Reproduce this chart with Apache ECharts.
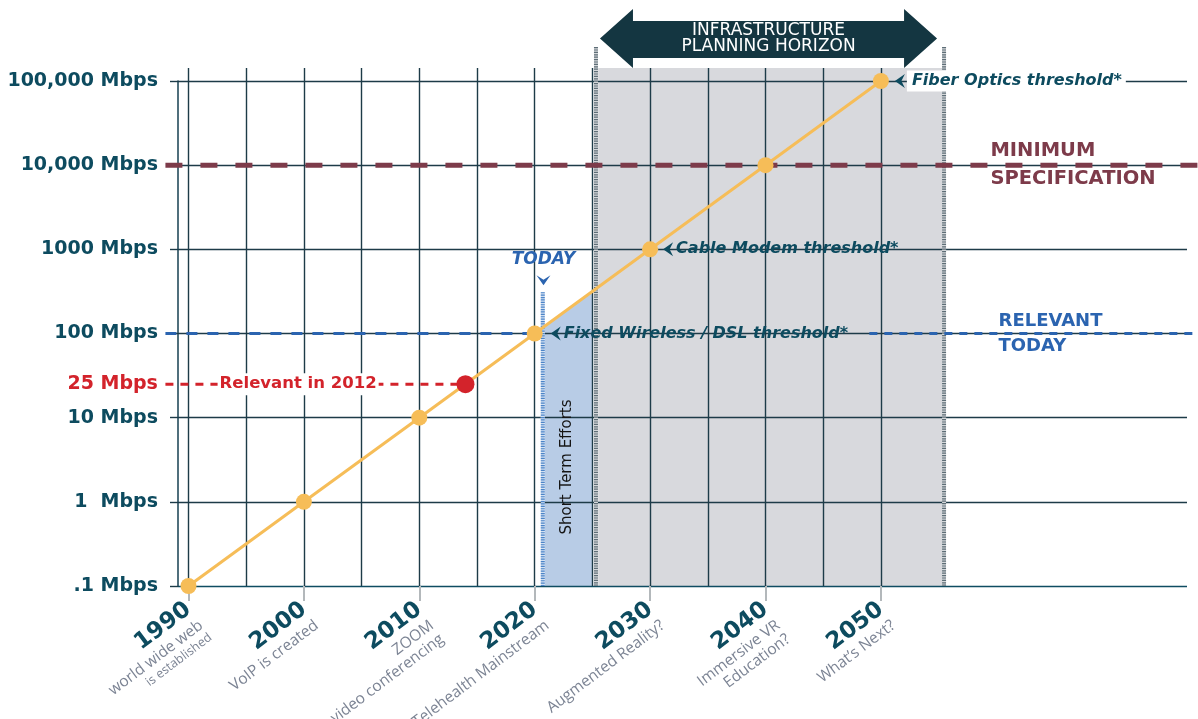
<!DOCTYPE html>
<html><head><meta charset="utf-8">
<script src="https://cdn.jsdelivr.net/npm/echarts@6/dist/echarts.min.js"></script>
<style>html,body{margin:0;padding:0;background:#fff}#c{width:1198px;height:719px}</style>
</head><body><div id="c"></div>
<script>
// ---------------- data ----------------
const years = [1990, 2000, 2010, 2020, 2030, 2040, 2050];
const speedsMbps = [0.1, 1, 10, 100, 1000, 10000, 100000];
const milestones = [
  ['world wide web', 'is established'],
  ['VoIP is created'],
  ['ZOOM', 'video conferencing'],
  ['Telehealth Mainstream'],
  ['Augmented Reality?'],
  ['Immersive VR', 'Education?'],
  ['What\u2019s Next?']
];
const yTickLabels = ['.1 Mbps', '1  Mbps', '10 Mbps', '100 Mbps', '1000 Mbps', '10,000 Mbps', '100,000 Mbps'];
const relevant2012Point = [2014, 25];
const relevant2012Text = 'Relevant in 2012';
const relevant2012Tick = '25 Mbps';
const thresholdNames = ['Fiber Optics threshold*', 'Cable Modem threshold*', 'Fixed Wireless / DSL threshold*'];
const thresholdYears = [2050, 2030, 2020];
const thresholdValues = [100000, 1000, 100];
const minimumSpecValue = 10000;
const minimumSpecText = 'MINIMUM\nSPECIFICATION';
const relevantTodayValue = 100;
const relevantTodayText = 'RELEVANT\nTODAY';
const referenceSpan = [1988, 2078];
const relevantTodayGap = [2020, 2049];
const planningHorizon = [2025.5, 2055.3];
const planningText = 'INFRASTRUCTURE\nPLANNING HORIZON';
const shortTermArea = [2020.85, 120, 2025, 325];
const shortTermText = 'Short Term Efforts';
const todayYear = 2020.7;
const todayTopValue = 310;
const todayText = 'TODAY';

// ---------------- styles ----------------
const DARK = '#0d4b5f', GRID = '#1d3b48', FONT = 'DejaVu Sans';
const ORANGE = '#f6bd58', RED = '#d3232b', MAROON = '#7d3b4a', BLUE = '#2b64b0';
const PX_PER_YEAR = 692.4 / 60;
const DESC_LH = 17, SMALL_LH = 14;
const logAxis = extra => Object.assign({type: 'log', logBase: 10, min: 0.1, max: 100000, splitNumber: 6}, extra);

const chart = echarts.init(document.getElementById('c'));

// x labels: year + milestone lines; a spacer line above keeps the year line centred on the tick
const xRich = {
  y: {fontFamily: FONT, fontWeight: 'bold', fontSize: 23, color: DARK, lineHeight: 25, align: 'right'},
  d: {fontFamily: 'Open Sans', fontSize: 15.5, color: '#7c8494', lineHeight: DESC_LH, align: 'right'},
  s: {fontFamily: 'Open Sans', fontSize: 12.5, color: '#7c8494', lineHeight: SMALL_LH, align: 'right'}
};
const xLabelFormatter = v => {
  const i = years.indexOf(v);
  if (i < 0) return '';
  let h = 0, body = '';
  milestones[i].forEach((t, j) => {
    const small = i === 0 && j === 1;
    h += small ? SMALL_LH : DESC_LH;
    body += '\n{' + (small ? 's' : 'd') + '|' + t + '}';
  });
  const key = 'h' + h;
  if (!xRich[key]) xRich[key] = {fontSize: 1, lineHeight: h, color: 'rgba(0,0,0,0)', align: 'right'};
  return '{' + key + '|.}\n{y|' + v + '}' + body;
};
years.forEach(xLabelFormatter); // register spacer styles

const thresholdData = thresholdNames.map((n, i) => ({
  name: n,
  value: [thresholdYears[i], thresholdValues[i]],
  symbolOffset: [[19, 0], [18, 0], [21, 0]][i],
  label: i === 0 ? {backgroundColor: '#fff', padding: [3, 4, 2, 5], distance: 2} : {distance: 3}
}));

const textItems = [
  {name: relevant2012Tick, value: [referenceSpan[0], relevant2012Point[1]],
   label: {position: 'left', distance: 7, color: RED, fontSize: 19}},
  {name: relevant2012Text, value: [1999.5, relevant2012Point[1]],
   label: {position: 'inside', color: RED, fontSize: 16.5, backgroundColor: '#fff', padding: [3, 2, 2, 2]}},
  {name: minimumSpecText, value: [2059.45, minimumSpecValue],
   label: {position: 'right', distance: 0, color: MAROON, fontSize: 19.5, lineHeight: 28}},
  {name: relevantTodayText, value: [2060.15, relevantTodayValue],
   label: {position: 'right', distance: 0, color: BLUE, fontSize: 18, lineHeight: 25}}
];

const refLine = (data, style) => ({type: 'line', xAxisIndex: 3, yAxisIndex: 3, z: 5, silent: true, symbol: 'none',
  data, lineStyle: style});

const gridBase = {containLabel: false, outerBoundsMode: 'none'};
const option = {
  animation: false,
  backgroundColor: '#fff',
  grid: [
    Object.assign({left: 130.8, top: 68, width: 750.1, height: 518}, gridBase),
    Object.assign({left: 178, top: 81, right: 11, height: 505}, gridBase),
    Object.assign({left: 188.5, top: 81, width: 692.4, height: 505}, gridBase),
    Object.assign({left: 0, top: 81, right: 0, height: 505}, gridBase)
  ],
  xAxis: [
    {gridIndex: 0, type: 'value', min: 1985, max: 2050, interval: 5, z: 3,
     axisLine: {show: false}, axisTick: {show: false}, axisLabel: {show: false},
     splitLine: {show: true, showMinLine: false, lineStyle: {color: GRID, width: 1.4}}},
    {gridIndex: 1, type: 'value', min: 0, max: 1, show: false},
    {gridIndex: 2, type: 'value', min: 1990, max: 2050, interval: 10, z: 3,
     axisLine: {show: false}, splitLine: {show: false},
     axisTick: {show: true, length: 15, lineStyle: {color: '#b3b8bb', width: 2}},
     axisLabel: {rotate: 37, margin: 21, align: 'right', verticalAlign: 'middle', formatter: xLabelFormatter, rich: xRich}},
    {gridIndex: 3, type: 'value', show: false,
     min: 1990 - 188.5 / PX_PER_YEAR, max: 1990 + (1198 - 188.5) / PX_PER_YEAR}
  ],
  yAxis: [
    {gridIndex: 0, type: 'value', show: false},
    logAxis({gridIndex: 1, z: 3,
      axisLine: {show: true, lineStyle: {color: '#163f50', width: 1.5}},
      axisTick: {show: true, length: 8, lineStyle: {color: GRID, width: 1.4}},
      axisLabel: {margin: 20, color: DARK, fontFamily: FONT, fontWeight: 'bold', fontSize: 19,
        formatter: v => yTickLabels[Math.round(Math.log10(v)) + 1]},
      splitLine: {show: true, lineStyle: {color: ['#0f4c62', GRID, GRID, GRID, GRID, GRID, GRID], width: 1.4}},
      minorTick: {show: false}, minorSplitLine: {show: false}}),
    logAxis({gridIndex: 2, show: false}),
    logAxis({gridIndex: 3, show: false})
  ],
  series: [
    // background shading: planning horizon (gray) and short-term efforts (blue)
    {type: 'custom', xAxisIndex: 2, yAxisIndex: 2, z: 1, silent: true,
     data: [[planningHorizon[0], planningHorizon[1], shortTermArea[0], shortTermArea[1], shortTermArea[2], shortTermArea[3]]],
     renderItem: (params, api) => {
       const top = params.coordSys.y;
       const bottom = api.coord([api.value(0), 0.1])[1];
       const hx0 = api.coord([api.value(0), 1])[0], hx1 = api.coord([api.value(1), 1])[0];
       const p1 = api.coord([api.value(2), api.value(3)]), p2 = api.coord([api.value(4), api.value(5)]);
       return {type: 'group', children: [
         {type: 'rect', shape: {x: hx0, y: top - 13, width: hx1 - hx0, height: bottom - top + 13}, style: {fill: '#d8d9dd'}},
         {type: 'polygon', shape: {points: [[p1[0], bottom], p1, p2, [p2[0], bottom]]}, style: {fill: '#b8cce6'}}
       ]};
     }},
    // decorations above grid lines
    {type: 'custom', xAxisIndex: 2, yAxisIndex: 2, z: 4, silent: true,
     data: [[planningHorizon[0], planningHorizon[1], todayYear, todayTopValue, shortTermArea[0], shortTermArea[2]]],
     renderItem: (params, api) => {
       const top = params.coordSys.y;
       const bottom = api.coord([api.value(0), 0.1])[1];
       const hx0 = api.coord([api.value(0), 1])[0], hx1 = api.coord([api.value(1), 1])[0];
       const tp = api.coord([api.value(2), api.value(3)]);
       const sx0 = api.coord([api.value(4), 1])[0], sx1 = api.coord([api.value(5), 1])[0];
       const ch = [];
       const hatch = (x, y0, y1, base, fg) => {
         ch.push({type: 'line', shape: {x1: x, y1: y0, x2: x, y2: y1}, style: {stroke: base, lineWidth: 4}});
         ch.push({type: 'line', shape: {x1: x, y1: y0, x2: x, y2: y1}, style: {stroke: fg, lineWidth: 4, lineDash: [1.2, 1.2]}});
       };
       hatch(hx0 - 2.2, top - 34, bottom, '#d4d7da', '#5d6d76');
       hatch(hx1 + 2, top - 34, bottom, '#d4d7da', '#5d6d76');
       hatch(tp[0], tp[1], bottom, '#d3e1f2', '#4c84c7');
       const cx = tp[0] + 0.7, cy = tp[1] - 12;
       ch.push({type: 'polygon', shape: {points: [[cx - 7, cy - 5], [cx, cy - 0.5], [cx + 7, cy - 5], [cx, cy + 5]]}, style: {fill: BLUE}});
       ch.push({type: 'text', x: cx, y: cy - 21, style: {text: todayText, fill: BLUE, font: 'italic bold 17px "DejaVu Sans"', align: 'center', verticalAlign: 'middle'}});
       ch.push({type: 'text', x: (sx0 + sx1) / 2 - 1, y: bottom - 119, rotation: Math.PI / 2,
         style: {text: shortTermText, fill: '#151515', font: '15px "DejaVu Sans"', align: 'center', verticalAlign: 'middle'}});
       // planning horizon double arrow banner
       const xa = hx0 + 1.8, xb = hx1 - 5, hd = 33;
       const bt = top - 72, bb = top - 13, yt = top - 60, yb = top - 23, ym = top - 42.5;
       ch.push({type: 'polygon', shape: {points: [[xa, ym], [xa + hd, bt], [xa + hd, yt], [xb - hd, yt], [xb - hd, bt], [xb, ym],
         [xb - hd, bb], [xb - hd, yb], [xa + hd, yb], [xa + hd, bb]]}, style: {fill: '#143641'}});
       ch.push({type: 'text', x: (xa + xb) / 2, y: ym, style: {text: planningText, fill: '#fff', font: '500 17px "DejaVu Sans"',
         align: 'center', verticalAlign: 'middle', lineHeight: 16.5}});
       return {type: 'group', children: ch};
     }},
    // reference lines (full-width grid)
    refLine([[referenceSpan[0], minimumSpecValue], [referenceSpan[1], minimumSpecValue]], {color: MAROON, width: 5, type: [17, 18]}),
    refLine([[referenceSpan[0], relevantTodayValue], [relevantTodayGap[0], relevantTodayValue]], {color: BLUE, width: 3, type: [11, 10]}),
    refLine([[relevantTodayGap[1], relevantTodayValue], [referenceSpan[1], relevantTodayValue]], {color: BLUE, width: 3, type: [8, 7]}),
    refLine([[referenceSpan[0], relevant2012Point[1]], relevant2012Point], {color: RED, width: 3, type: [8, 7]}),
    // main trend
    {type: 'line', xAxisIndex: 2, yAxisIndex: 2, z: 6, clip: false, silent: true,
     data: years.map((y, i) => [y, speedsMbps[i]]),
     symbol: 'circle', symbolSize: 16, itemStyle: {color: ORANGE, opacity: 1}, lineStyle: {color: ORANGE, width: 3}},
    {type: 'scatter', xAxisIndex: 2, yAxisIndex: 2, z: 7, clip: false, silent: true,
     data: [relevant2012Point], symbolSize: 18, itemStyle: {color: RED, opacity: 1}},
    // threshold annotations
    {type: 'scatter', xAxisIndex: 2, yAxisIndex: 2, z: 8, clip: false, silent: true,
     data: thresholdData, symbol: 'path://M0,7 L10,0 L6.5,7 L10,14 Z', symbolSize: [10, 14], itemStyle: {color: DARK, opacity: 1},
     label: {show: true, position: 'right', formatter: '{b}', color: DARK, fontFamily: FONT, fontWeight: 'bold', fontStyle: 'italic', fontSize: 16}},
    // text labels
    {type: 'scatter', xAxisIndex: 2, yAxisIndex: 2, z: 9, clip: false, silent: true,
     data: textItems, symbolSize: 1, itemStyle: {color: 'rgba(0,0,0,0)', opacity: 1},
     label: {show: true, formatter: '{b}', fontFamily: FONT, fontWeight: 'bold', opacity: 1}}
  ]
};
chart.setOption(option);
</script>
</body></html>
